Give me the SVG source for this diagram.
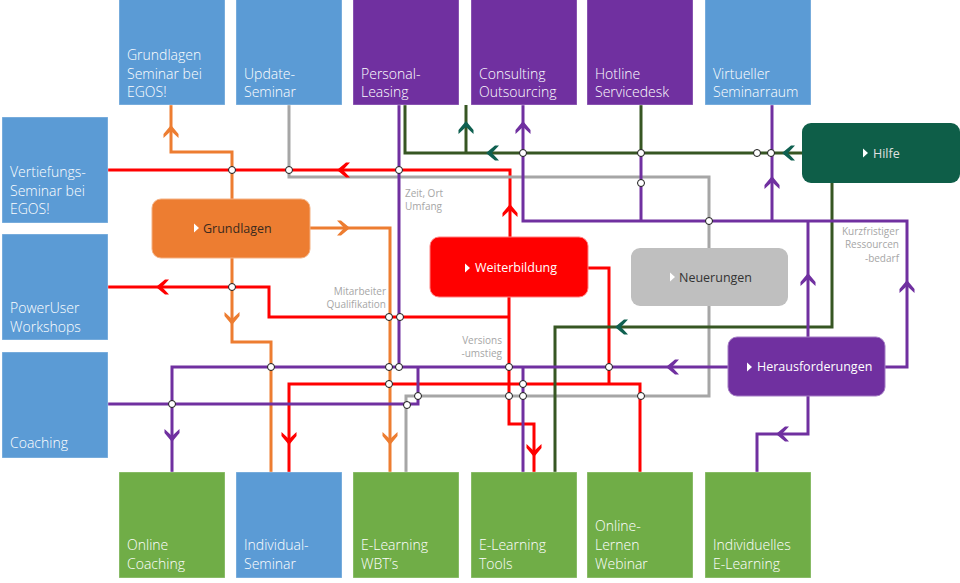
<svg xmlns="http://www.w3.org/2000/svg" xmlns:xlink="http://www.w3.org/1999/xlink" width="960" height="583" viewBox="0 0 960 583">
<style>
.tile{stroke:#ffffff;stroke-opacity:0.35;stroke-width:1}
.blue{fill:#5b9bd5}
.purp{fill:#7030a0}
.grn{fill:#70ad47}
.tt{font-family:"Open Sans","Noto Sans",sans-serif;font-size:14px;font-weight:300;fill:#ffffff}
.nl{font-family:"Open Sans","Noto Sans",sans-serif;font-size:12.5px;fill:#ffffff}
.sl{font-family:"Open Sans","Noto Sans",sans-serif;font-size:10px;fill:#a6a6a6}
.ln{fill:none;stroke-width:3;stroke-linejoin:miter}
.r{stroke:#ff0000}.o{stroke:#ed7d31}.g{stroke:#a6a6a6}.d{stroke:#375623}.p{stroke:#7030a0}
.j{fill:#ffffff;stroke:#1a1a1a;stroke-width:1}
</style>
<defs>
<path id="a" d="M2,0 L-7,-7.5 L-11,-7.5 L-4,0 L-11,7.5 L-7,7.5 Z"/>
<path id="tri" d="M0,-4.5 L5,0 L0,4.5 Z"/>
</defs>
<rect width="960" height="583" fill="#ffffff"/>

<g id="connectors">
<!-- red -->
<path class="ln r" d="M510,237 V170 H108"/>
<path class="ln r" d="M509,317 H269 V287 H108"/>
<path class="ln r" d="M509,297 V424 H534 V472"/>
<path class="ln r" d="M588,268 H609 V384"/>
<path class="ln r" d="M640,472 V384 H289 V472"/>
<!-- orange -->
<path class="ln o" d="M232,199 V152 H171 V105"/>
<path class="ln o" d="M310,228 H390 V472"/>
<path class="ln o" d="M232,258 V342 H271 V472"/>
<!-- grey -->
<path class="ln g" d="M709,248 V177 H289 V105"/>
<path class="ln g" d="M709,306 V396 H406 V472"/>
<!-- dark green -->
<path class="ln d" d="M802,153 H405 V105"/>
<path class="ln d" d="M466,153 V105"/>
<path class="ln d" d="M641,153 V105"/>
<path class="ln d" d="M832,183 V327 H555 V472"/>
<!-- purple -->
<path class="ln p" d="M885,367 H907 V221 H523 V105"/>
<path class="ln p" d="M772,221 V105"/>
<path class="ln p" d="M808,337 V221"/>
<path class="ln p" d="M641,221 V153"/>
<path class="ln p" d="M728,367 H172 V472"/>
<path class="ln p" d="M399,105 V367"/>
<path class="ln p" d="M108,404 H418 V367"/>
<path class="ln p" d="M523,367 V472"/>
<path class="ln p" d="M808,396 V434 H757 V472"/>

<!-- arrowheads -->
<g fill="#ff0000">
<use xlink:href="#a" transform="translate(339,170) rotate(180)"/>
<use xlink:href="#a" transform="translate(510,206) rotate(-90)"/>
<use xlink:href="#a" transform="translate(158,287) rotate(180)"/>
<use xlink:href="#a" transform="translate(534,455) rotate(90)"/>
<use xlink:href="#a" transform="translate(289,443) rotate(90)"/>
</g>
<g fill="#ed7d31">
<use xlink:href="#a" transform="translate(171,127) rotate(-90)"/>
<use xlink:href="#a" transform="translate(348,228)"/>
<use xlink:href="#a" transform="translate(232,323) rotate(90)"/>
<use xlink:href="#a" transform="translate(390,443) rotate(90)"/>
</g>
<g fill="#0f6050">
<use xlink:href="#a" transform="translate(466,123) rotate(-90)"/>
<use xlink:href="#a" transform="translate(488,153) rotate(180)"/>
<use xlink:href="#a" transform="translate(784,153) rotate(180)"/>
<use xlink:href="#a" transform="translate(617,327) rotate(180)"/>
</g>
<g fill="#7030a0">
<use xlink:href="#a" transform="translate(523,123) rotate(-90)"/>
<use xlink:href="#a" transform="translate(772,178) rotate(-90)"/>
<use xlink:href="#a" transform="translate(808,275) rotate(-90)"/>
<use xlink:href="#a" transform="translate(907,282) rotate(-90)"/>
<use xlink:href="#a" transform="translate(668,367) rotate(180)"/>
<use xlink:href="#a" transform="translate(172,440) rotate(90)"/>
<use xlink:href="#a" transform="translate(778,434) rotate(180)"/>
</g>

<!-- junctions -->
<circle class="j" cx="232" cy="170" r="3.5"/>
<circle class="j" cx="289" cy="170" r="3.5"/>
<circle class="j" cx="399" cy="170" r="3.5"/>
<circle class="j" cx="523" cy="153" r="3.5"/>
<circle class="j" cx="641" cy="153" r="3.5"/>
<circle class="j" cx="757" cy="153" r="3.5"/>
<circle class="j" cx="771" cy="153" r="3.5"/>
<circle class="j" cx="641" cy="183" r="3.5"/>
<circle class="j" cx="709" cy="221" r="3.5"/>
<circle class="j" cx="232" cy="287" r="3.5"/>
<circle class="j" cx="389" cy="317" r="3.5"/>
<circle class="j" cx="400" cy="317" r="3.5"/>
<circle class="j" cx="271" cy="367" r="3.5"/>
<circle class="j" cx="389" cy="367" r="3.5"/>
<circle class="j" cx="399" cy="367" r="3.5"/>
<circle class="j" cx="509" cy="367" r="3.5"/>
<circle class="j" cx="609" cy="367" r="3.5"/>
<circle class="j" cx="389" cy="384" r="3.5"/>
<circle class="j" cx="523" cy="384" r="3.5"/>
<circle class="j" cx="172" cy="404" r="3.5"/>
<circle class="j" cx="407" cy="405" r="3.5"/>
<circle class="j" cx="418" cy="396" r="3.5"/>
<circle class="j" cx="509" cy="396" r="3.5"/>
<circle class="j" cx="523" cy="396" r="3.5"/>
<circle class="j" cx="641" cy="396" r="3.5"/>

<!-- connector labels -->
<text class="sl" x="405" y="197">Zeit, Ort</text>
<text class="sl" x="405" y="210">Umfang</text>
<text class="sl" x="386" y="295" text-anchor="end">Mitarbeiter</text>
<text class="sl" x="386" y="308" text-anchor="end">Qualifikation</text>
<text class="sl" x="502" y="344" text-anchor="end">Versions</text>
<text class="sl" x="502" y="357" text-anchor="end">-umstieg</text>
<text class="sl" x="899" y="235" text-anchor="end">Kurzfristiger</text>
<text class="sl" x="899" y="248" text-anchor="end">Ressourcen</text>
<text class="sl" x="899" y="262" text-anchor="end">-bedarf</text>
</g>

<!-- top tiles -->
<g id="grundlagen-seminar"><rect class="tile blue" x="119" y="-1" width="106" height="106"/>
<text class="tt" x="127" y="60">Grundlagen</text><text class="tt" x="127" y="79">Seminar bei</text><text class="tt" x="127" y="97">EGOS!</text></g>
<g id="update-seminar"><rect class="tile blue" x="236" y="-1" width="106" height="106"/>
<text class="tt" x="244" y="79">Update-</text><text class="tt" x="244" y="97">Seminar</text></g>
<g id="personal-leasing"><rect class="tile purp" x="353" y="-1" width="106" height="106"/>
<text class="tt" x="361" y="79">Personal-</text><text class="tt" x="361" y="97">Leasing</text></g>
<g id="consulting"><rect class="tile purp" x="471" y="-1" width="106" height="106"/>
<text class="tt" x="479" y="79">Consulting</text><text class="tt" x="479" y="97">Outsourcing</text></g>
<g id="hotline"><rect class="tile purp" x="587" y="-1" width="106" height="106"/>
<text class="tt" x="595" y="79">Hotline</text><text class="tt" x="595" y="97">Servicedesk</text></g>
<g id="virtueller"><rect class="tile blue" x="705" y="-1" width="106" height="106"/>
<text class="tt" x="713" y="79">Virtueller</text><text class="tt" x="713" y="97">Seminarraum</text></g>

<!-- left tiles -->
<g id="vertiefungs"><rect class="tile blue" x="2" y="117" width="106" height="106"/>
<text class="tt" x="10" y="177">Vertiefungs-</text><text class="tt" x="10" y="196">Seminar bei</text><text class="tt" x="10" y="214">EGOS!</text></g>
<g id="poweruser"><rect class="tile blue" x="2" y="234" width="106" height="106"/>
<text class="tt" x="10" y="313">PowerUser</text><text class="tt" x="10" y="332">Workshops</text></g>
<g id="coaching"><rect class="tile blue" x="2" y="352" width="106" height="106"/>
<text class="tt" x="10" y="448">Coaching</text></g>

<!-- bottom tiles -->
<g id="online-coaching"><rect class="tile grn" x="119" y="472" width="106" height="106"/>
<text class="tt" x="127" y="550">Online</text><text class="tt" x="127" y="569">Coaching</text></g>
<g id="individual-seminar"><rect class="tile blue" x="236" y="472" width="106" height="106"/>
<text class="tt" x="244" y="550">Individual-</text><text class="tt" x="244" y="569">Seminar</text></g>
<g id="elearning-wbt"><rect class="tile grn" x="353" y="472" width="106" height="106"/>
<text class="tt" x="361" y="550">E-Learning</text><text class="tt" x="361" y="569">WBT’s</text></g>
<g id="elearning-tools"><rect class="tile grn" x="471" y="472" width="106" height="106"/>
<text class="tt" x="479" y="550">E-Learning</text><text class="tt" x="479" y="569">Tools</text></g>
<g id="online-lernen"><rect class="tile grn" x="587" y="472" width="106" height="106"/>
<text class="tt" x="595" y="531">Online-</text><text class="tt" x="595" y="550">Lernen</text><text class="tt" x="595" y="569">Webinar</text></g>
<g id="individuelles"><rect class="tile grn" x="705" y="472" width="106" height="106"/>
<text class="tt" x="713" y="550">Individuelles</text><text class="tt" x="713" y="569">E-Learning</text></g>

<!-- hub nodes -->
<g id="grundlagen"><rect x="152" y="199" width="158" height="59" rx="9" fill="#ed7d31" stroke="#f4b183" stroke-width="1"/>
<use xlink:href="#tri" x="194" y="228" fill="#ffffff"/>
<text class="nl" x="203" y="233" fill="#3a2a1e" style="fill:#3a2a1e">Grundlagen</text></g>
<g id="weiterbildung"><rect x="430" y="237" width="158" height="60" rx="9" fill="#ff0000" stroke="#ff8080" stroke-width="1"/>
<use xlink:href="#tri" x="465" y="268" fill="#ffffff"/>
<text class="nl" x="475" y="272">Weiterbildung</text></g>
<g id="neuerungen"><rect x="631" y="248" width="157" height="58" rx="9" fill="#bfbfbf"/>
<use xlink:href="#tri" x="670" y="277" fill="#ffffff"/>
<text class="nl" x="679" y="282" style="fill:#333333">Neuerungen</text></g>
<g id="hilfe"><rect x="802" y="123" width="158" height="60" rx="9" fill="#0e5e48"/>
<use xlink:href="#tri" x="863" y="153" fill="#ffffff"/>
<text class="nl" x="873" y="158" style="fill:#e0e0e0">Hilfe</text></g>
<g id="herausforderungen"><rect x="728" y="337" width="157" height="59" rx="9" fill="#7030a0" stroke="#a47dc4" stroke-width="1"/>
<use xlink:href="#tri" x="747" y="367" fill="#ffffff"/>
<text class="nl" x="757" y="371">Herausforderungen</text></g>
</svg>
